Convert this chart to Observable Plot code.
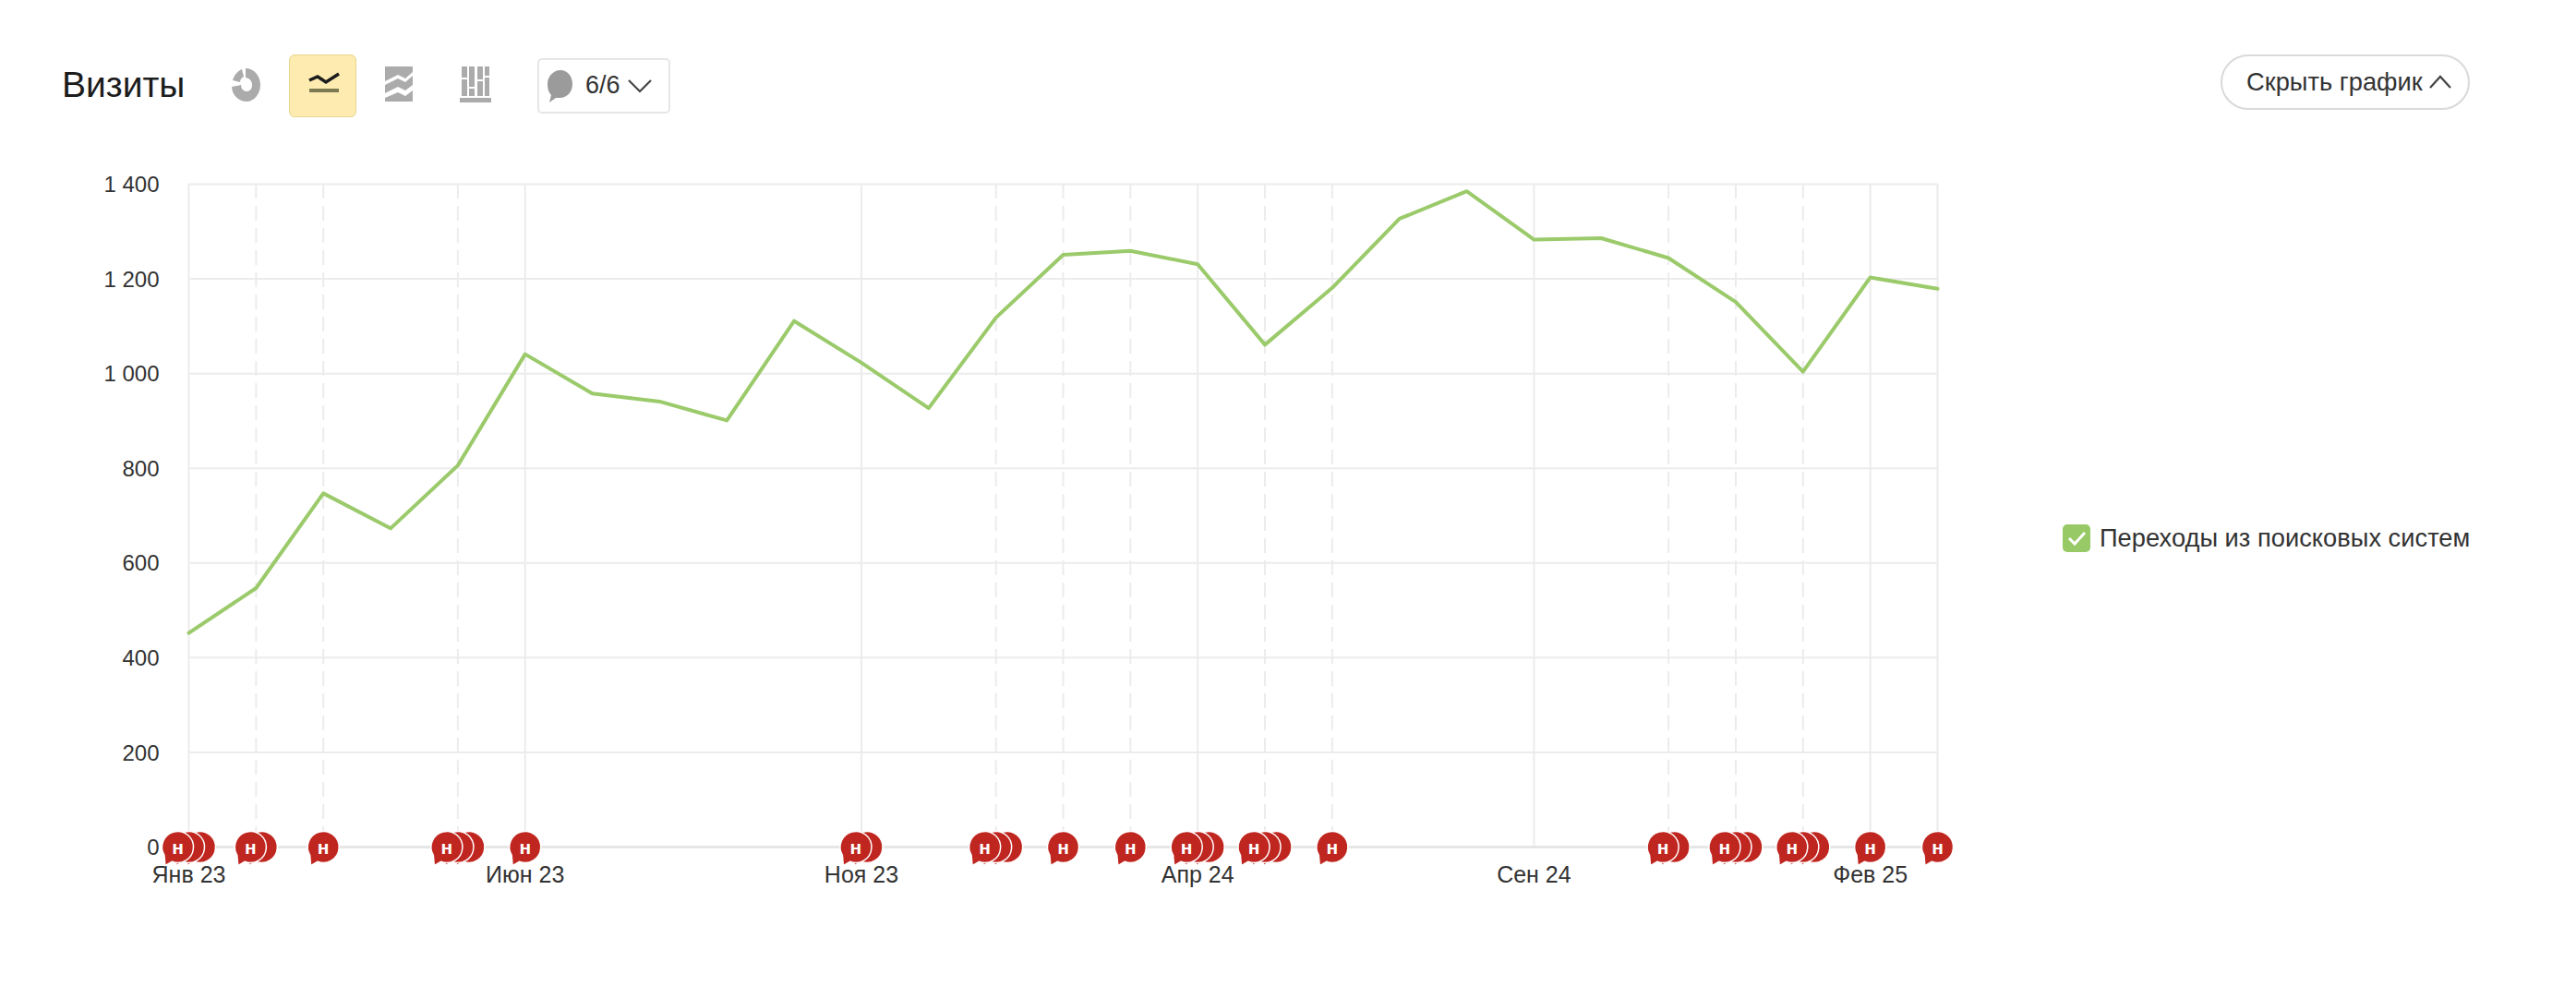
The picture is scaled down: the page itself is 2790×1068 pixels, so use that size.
<!DOCTYPE html>
<html lang="ru">
<head>
<meta charset="utf-8">
<script src="https://cdn.jsdelivr.net/npm/d3@7"></script>
<script src="https://cdn.jsdelivr.net/npm/@observablehq/plot@0.6"></script>
<style>
  html, body { margin: 0; background: #fff; }
  body { width: 2790px; height: 1068px; position: relative; overflow: hidden; font-family: "Liberation Sans", Arial, sans-serif; color: #222; }
  #head { position: relative; height: 150px; }
  #head > * { position: absolute; }
  #title { left: 67px; top: 69px; font-size: 39px; line-height: 46px; color: #1c1c1c; }
  .icon { top: 70px; }
  #active { left: 313px; top: 59px; width: 71px; height: 66px; background: #fdebb0; border: 1px solid #e9d68f; border-radius: 6px; }
  #drop { left: 582px; top: 63px; width: 140px; height: 56px; border: 2px solid #e6e6e6; border-radius: 5px; }
  #droplabel { left: 634px; top: 77px; font-size: 27px; line-height: 30px; color: #333; }
  #hide { left: 2405px; top: 59px; width: 266px; height: 56px; border: 2px solid #d9d9d9; border-radius: 30px; }
  #hidelabel { left: 2433px; top: 74px; font-size: 27.3px; line-height: 30px; color: #333; white-space: nowrap; }
  #chart { display: block; }
  #chart svg { display: block; }
  #legend { position: absolute; left: 2233px; top: 567px; display: flex; align-items: center; gap: 9px; font-size: 27.3px; line-height: 30px; color: #333; white-space: nowrap; }
  #legend svg { display: block; }
</style>
</head>
<body>
<div id="head">
  <div id="title">Визиты</div>
  <svg class="icon" style="left:250px;top:72px" width="34" height="40" viewBox="0 0 34 40"><path d="M16 2c9 0 16 8 16 18s-7 18-15 18C8 38 1 30 1 22l10-2a6 7 0 0 0 6 7c4 0 6-3 6-7 0-4-2-7-7-8z" fill="#ababab"/><path d="M12 3l2 8c-2 1-4 3-4 6L2 15C4 9 7 5 12 3z" fill="#ababab"/></svg>
  <div id="active"></div>
  <svg class="icon" style="left:333px" width="36" height="44" viewBox="0 0 36 44"><path d="M2 17l9-4 9 6 14-9" fill="none" stroke="#1c1c1c" stroke-width="3.5"/><path d="M2 28h32" stroke="#7c7a52" stroke-width="4"/></svg>
  <svg class="icon" style="left:416px" width="32" height="44" viewBox="0 0 32 44"><path d="M1 2h30v6l-8 7-8-4-14 7zM1 22l14-7 8 4 8-7v10l-8 6-8-4-14 7zM1 36l14-6 8 4 8-6v12H1z" fill="#ababab"/></svg>
  <svg class="icon" style="left:497px" width="36" height="44" viewBox="0 0 36 44"><path d="M3 2h6v12H3zM3 16h6v18H3zM11 2h6v22h-6zM11 26h6v8h-6zM20 2h6v14h-6zM20 18h6v16h-6zM28 2h5v10h-5zM28 14h5v20h-5zM1 36h34v5H1z" fill="#ababab"/></svg>
  <div id="drop"></div>
  <svg class="icon" style="left:592px;top:74px" width="30" height="42" viewBox="0 0 30 42"><path d="M15 2c8 0 13 7 13 15s-5 15-14 15c-2 0-3 0-4 0l-7 5 2-8C2 26 1 22 1 17 1 9 7 2 15 2z" fill="#9b9b9b"/></svg>
  <div id="droplabel">6/6</div>
  <svg class="icon" style="left:679px;top:84px" width="28" height="18" viewBox="0 0 28 18"><path d="M2 3l12 12L26 3" fill="none" stroke="#444" stroke-width="2.2"/></svg>
  <div id="hide"></div>
  <div id="hidelabel">Скрыть график</div>
  <svg class="icon" style="left:2630px;top:80px" width="26" height="18" viewBox="0 0 26 18"><path d="M2 15L13 3l11 12" fill="none" stroke="#444" stroke-width="2.2"/></svg>
</div>
<div id="chart"></div>
<div id="legend">
  <svg width="32" height="32" viewBox="0 0 32 32"><rect x="1" y="1" width="30" height="30" rx="5" fill="#97c966"/><path d="M8 16l6 6 11-12" fill="none" stroke="#fff" stroke-width="3"/></svg>
  <span>Переходы из поисковых систем</span>
</div>
<script>
const months = ["Янв 23","Фев 23","Мар 23","Апр 23","Май 23","Июн 23","Июл 23","Авг 23","Сен 23","Окт 23","Ноя 23","Дек 23","Янв 24","Фев 24","Мар 24","Апр 24","Май 24","Июн 24","Июл 24","Авг 24","Сен 24","Окт 24","Ноя 24","Дек 24","Янв 25","Фев 25","Мар 25"];
const visits = [452,547,747,673,806,1041,958,941,901,1111,1023,927,1118,1251,1259,1231,1061,1181,1327,1385,1283,1286,1244,1151,1004,1203,1179];
const yTicks = [0,200,400,600,800,1000,1200,1400];
const xLabels = ["Янв 23","Июн 23","Ноя 23","Апр 24","Сен 24","Фев 25"];
const solidMonths = ["Янв 23","Июн 23","Ноя 23","Апр 24","Сен 24","Фев 25","Мар 25"];
const dashedMonths = ["Фев 23","Мар 23","Май 23","Янв 24","Фев 24","Мар 24","Май 24","Июн 24","Ноя 24","Дек 24","Янв 25"];
const noteMonths = ["Янв 23","Фев 23","Мар 23","Май 23","Июн 23","Ноя 23","Янв 24","Фев 24","Мар 24","Апр 24","Май 24","Июн 24","Ноя 24","Дек 24","Янв 25","Фев 25","Мар 25"];
const noteCounts = [3,2,1,3,1,2,3,1,1,3,3,1,2,3,3,1,1];
const seriesName = "Переходы из поисковых систем";

const series = months.map((m, i) => ({month: m, value: visits[i], name: seriesName}));

// Speech-bubble symbol: a circle with a small tail at lower left.
const bubble = {
  draw(ctx, size) {
    const r = Math.sqrt(size / Math.PI);
    ctx.arc(0, 0, r, 2.6, 1.95 + Math.PI * 2, false);
    ctx.lineTo(-r * 0.8, r * 1.18);
    ctx.closePath();
  }
};

const stack = noteMonths.flatMap((m, i) => d3.range(noteCounts[i]).map(k => ({
  month: m, zero: 0, offset: (k - (noteCounts[i] - 1) / 2) * 12, front: k === 0
})));
const offsets = [...new Set(stack.map(d => d.offset))].sort((a, b) => b - a);
const ru = d3.formatLocale({decimal: ",", thousands: " ", grouping: [3], currency: ["", ""]}).format(",");

const grid = "#ececec";
const plot = Plot.plot({
  width: 2140, height: 918,
  marginLeft: 204, marginRight: 42, marginTop: 49, marginBottom: 151,
  style: {fontFamily: '"Liberation Sans", Arial, sans-serif', background: "transparent", overflow: "visible"},
  x: {type: "point", domain: months, padding: 0, round: false},
  y: {domain: [0, 1400]},
  marks: [
    Plot.gridY(yTicks, {stroke: grid, strokeOpacity: 1, strokeWidth: 2}),
    Plot.ruleX(solidMonths, {stroke: grid, strokeWidth: 2}),
    Plot.ruleX(dashedMonths, {stroke: grid, strokeWidth: 2, strokeDasharray: "16 8"}),
    Plot.ruleY([0], {stroke: "#e6e6e6", strokeWidth: 3}),
    Plot.axisY({ticks: yTicks, tickSize: 0, tickPadding: 32, tickFormat: ru, fontSize: 24, dy: 1, color: "#333", label: null}),
    Plot.axisX({ticks: xLabels, tickSize: 0, tickPadding: 21, fontSize: 25, color: "#333", label: null}),
    Plot.line(series, {x: "month", y: "value", stroke: "#9bca6b", strokeWidth: 4, strokeLinejoin: "round"}),
    ...offsets.map(o => Plot.dot(stack.filter(d => d.offset === o), {
      x: "month", y: "zero", dx: o, r: 17, symbol: bubble, fill: "#c02620", stroke: "#fff", strokeWidth: 1.5
    })),
    ...offsets.map(o => Plot.text(stack.filter(d => d.offset === o && d.front), {
      x: "month", y: "zero", dx: o, dy: 1, text: () => "н", fill: "#fff", fontSize: 21, fontWeight: "bold"
    }))
  ]
});
document.getElementById("chart").append(plot);
</script>
</body>
</html>
